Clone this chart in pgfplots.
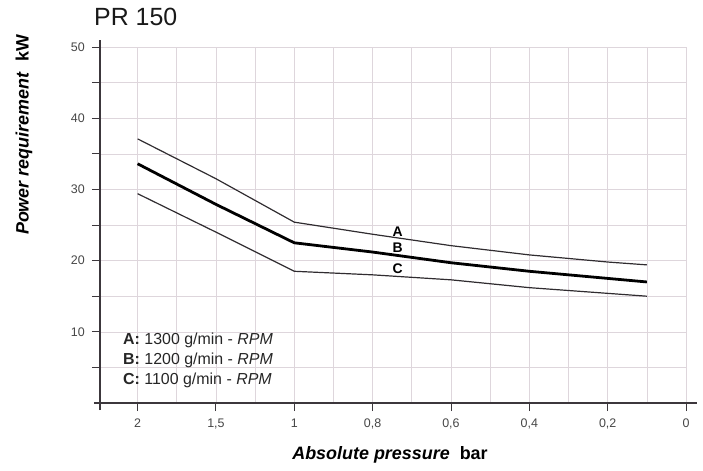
\documentclass[border=0pt]{standalone}
\usepackage{fontspec}
\setmainfont{Liberation Sans}
\setsansfont{Liberation Sans}
\usepackage{pgfplots}
\usepackage{pgfplotstable}
\pgfplotsset{compat=1.18}
\definecolor{gridc}{RGB}{222,214,220}
\definecolor{axc}{RGB}{60,55,60}
\definecolor{txtc}{RGB}{70,70,70}
\pgfplotstableread{
p kw
2 37.1
1.5 31.5
1 25.4
0.8 23.7
0.6 22.1
0.4 20.8
0.2 19.8
0.1 19.4
}\curveA
\pgfplotstableread{
p kw
2 33.6
1.5 27.9
1 22.5
0.8 21.2
0.6 19.7
0.4 18.5
0.2 17.5
0.1 17.0
}\curveB
\pgfplotstableread{
p kw
2 29.4
1.5 24.0
1 18.5
0.8 18.0
0.6 17.3
0.4 16.2
0.2 15.4
0.1 15.0
}\curveC
\begin{document}
\begin{tikzpicture}
\path (-100bp,-68bp) rectangle (603bp,403bp);
\begin{axis}[
  at={(0,0)}, anchor=south west,
  scale only axis, width=586bp, height=356bp,
  x dir=reverse,
  xmin=0, xmax=7.48, ymin=0, ymax=50,
  axis line style={draw=none},
  xtick={0,1,2,3,4,5,6,7},
  xticklabels={0,{0,2},{0,4},{0,6},{0,8},1,{1,5},2},
  minor xtick={0.5,1.5,2.5,3.5,4.5,5.5,6.5},
  ytick={5,10,15,20,25,30,35,40,45,50},
  yticklabels={,10,,20,,30,,40,,50},
  xtick pos=bottom, ytick pos=left,
  tick align=outside,
  major tick length=8bp, minor tick length=0bp,
  tick style={axc, line width=0.9bp},
  grid=both,
  major grid style={gridc, line width=0.6bp},
  minor grid style={gridc, line width=0.6bp},
  /pgf/number format/assume math mode=true,
  xticklabel style={font=\fontsize{12.5}{14}\selectfont, text=txtc, anchor=north, inner sep=0pt, yshift=-8bp},
  yticklabel style={font=\fontsize{12.5}{14}\selectfont, text=txtc, anchor=east, inner sep=0pt, xshift=-7bp},
  clip=false,
]
\addplot[color=axc!80!black, line width=1.2bp] table[x expr={\thisrow{p}>1 ? 5+(\thisrow{p}-1)*2 : 5*\thisrow{p}}, y=kw] {\curveA};
\addplot[color=black, line width=2.8bp] table[x expr={\thisrow{p}>1 ? 5+(\thisrow{p}-1)*2 : 5*\thisrow{p}}, y=kw] {\curveB};
\addplot[color=axc!80!black, line width=1.2bp] table[x expr={\thisrow{p}>1 ? 5+(\thisrow{p}-1)*2 : 5*\thisrow{p}}, y=kw] {\curveC};
\node[font=\fontsize{14}{15}\selectfont\bfseries] at (axis cs:3.68,24.0) {A};
\node[font=\fontsize{14}{15}\selectfont\bfseries] at (axis cs:3.68,21.8) {B};
\node[font=\fontsize{14}{15}\selectfont\bfseries] at (axis cs:3.68,18.8) {C};
\end{axis}
\draw[axc, line width=1.3bp] (-6bp,0) -- (597bp,0);
\draw[axc, line width=1.3bp] (0,-7bp) -- (0,363bp);
\begin{scope}[every node/.style={anchor=west, inner sep=0pt, text=black!85, font=\fontsize{16}{18}\selectfont}]
\node at (23bp,63bp) {\textbf{A:} 1300 g/min - \textit{RPM}};
\node at (23bp,43bp) {\textbf{B:} 1200 g/min - \textit{RPM}};
\node at (23bp,23bp) {\textbf{C:} 1100 g/min - \textit{RPM}};
\end{scope}
\node[anchor=west, inner sep=0pt, font=\fontsize{25}{27}\selectfont, text=black!90] at (-6bp,386bp) {PR 150};
\node[rotate=90, inner sep=0pt, font=\fontsize{18}{20}\selectfont\bfseries] at (-76bp,268bp) {\textit{Power requirement}\ \ kW};
\node[inner sep=0pt, font=\fontsize{18}{20}\selectfont\bfseries] at (290bp,-52bp) {\textit{Absolute pressure}\ \ bar};
\end{tikzpicture}
\end{document}
